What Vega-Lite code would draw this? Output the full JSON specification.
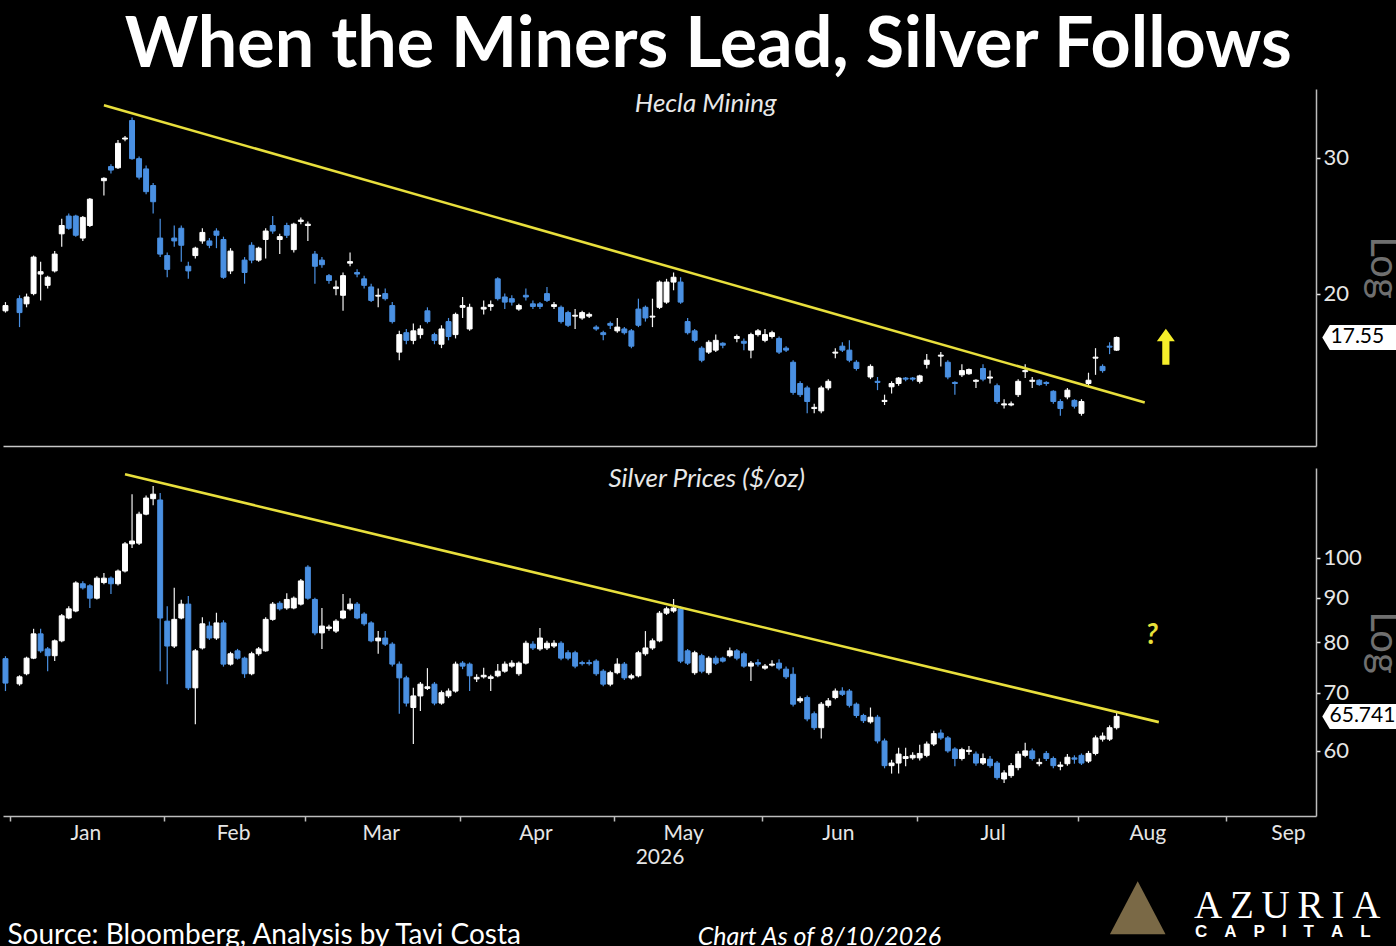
{
  "$schema": "https://vega.github.io/schema/vega-lite/v6.json",
  "background": "#000000",
  "padding": {"top": 11, "left": 0, "right": 0, "bottom": 0},
  "title": {"text": "When the Miners Lead, Silver Follows", "font": "Lato", "fontSize": 70, "fontWeight": "bold", "color": "#ffffff", "anchor": "middle", "offset": 7, "dx": 1},
  "spacing": 20,
  "config": {
    "view": {"stroke": null},
    "axis": {"labelFont": "Lato", "titleFont": "Lato", "grid": false}
  },
  "datasets": {
    "hecla": [
      {"date":"2025-12-31","open":19.0,"high":19.5,"low":18.9,"close":19.3},
      {"date":"2026-01-02","open":19.7,"high":19.9,"low":18.1,"close":18.9},
      {"date":"2026-01-05","open":19.4,"high":20.0,"low":19.2,"close":19.8},
      {"date":"2026-01-06","open":20.0,"high":22.4,"low":19.9,"close":22.3},
      {"date":"2026-01-07","open":21.2,"high":22.0,"low":19.6,"close":21.35},
      {"date":"2026-01-08","open":20.5,"high":21.1,"low":20.3,"close":21.0},
      {"date":"2026-01-09","open":21.4,"high":22.7,"low":21.3,"close":22.5},
      {"date":"2026-01-12","open":23.9,"high":25.0,"low":23.0,"close":24.5},
      {"date":"2026-01-13","open":25.2,"high":25.4,"low":24.2,"close":24.3},
      {"date":"2026-01-14","open":25.2,"high":25.3,"low":23.7,"close":23.8},
      {"date":"2026-01-15","open":23.6,"high":25.2,"low":23.4,"close":25.1},
      {"date":"2026-01-16","open":24.5,"high":26.6,"low":24.4,"close":26.5},
      {"date":"2026-01-20","open":28.0,"high":28.3,"low":26.8,"close":28.2},
      {"date":"2026-01-21","open":29.2,"high":29.4,"low":28.6,"close":28.9},
      {"date":"2026-01-22","open":29.1,"high":31.6,"low":29.0,"close":31.3},
      {"date":"2026-01-23","open":31.7,"high":32.0,"low":31.5,"close":31.8},
      {"date":"2026-01-26","open":33.5,"high":33.8,"low":29.8,"close":29.9},
      {"date":"2026-01-27","open":29.9,"high":30.1,"low":28.1,"close":28.3},
      {"date":"2026-01-28","open":29.0,"high":29.3,"low":26.9,"close":27.1},
      {"date":"2026-01-29","open":27.6,"high":27.8,"low":25.4,"close":26.3},
      {"date":"2026-01-30","open":23.6,"high":25.0,"low":22.3,"close":22.5},
      {"date":"2026-02-02","open":22.4,"high":22.6,"low":21.0,"close":21.5},
      {"date":"2026-02-03","open":23.6,"high":24.5,"low":23.0,"close":23.4},
      {"date":"2026-02-04","open":24.3,"high":24.5,"low":22.0,"close":23.1},
      {"date":"2026-02-05","open":21.7,"high":22.0,"low":20.9,"close":21.4},
      {"date":"2026-02-06","open":22.4,"high":23.0,"low":22.2,"close":22.9},
      {"date":"2026-02-09","open":23.4,"high":24.3,"low":23.2,"close":24.0},
      {"date":"2026-02-10","open":23.4,"high":23.6,"low":22.9,"close":23.1},
      {"date":"2026-02-11","open":24.1,"high":24.3,"low":22.9,"close":23.8},
      {"date":"2026-02-12","open":23.5,"high":23.7,"low":20.9,"close":21.0},
      {"date":"2026-02-13","open":21.4,"high":22.9,"low":21.2,"close":22.7},
      {"date":"2026-02-17","open":22.1,"high":22.3,"low":20.6,"close":21.3},
      {"date":"2026-02-18","open":23.1,"high":23.3,"low":21.9,"close":22.1},
      {"date":"2026-02-19","open":22.1,"high":23.0,"low":22.0,"close":22.9},
      {"date":"2026-02-20","open":23.5,"high":24.3,"low":22.2,"close":24.1},
      {"date":"2026-02-23","open":24.5,"high":25.2,"low":23.9,"close":24.1},
      {"date":"2026-02-24","open":23.5,"high":23.9,"low":22.5,"close":23.7},
      {"date":"2026-02-25","open":24.5,"high":24.7,"low":23.6,"close":23.8},
      {"date":"2026-02-26","open":22.8,"high":24.7,"low":22.6,"close":24.6},
      {"date":"2026-02-27","open":24.8,"high":25.1,"low":24.6,"close":24.9},
      {"date":"2026-03-02","open":24.5,"high":24.8,"low":23.4,"close":24.6},
      {"date":"2026-03-03","open":22.5,"high":22.7,"low":20.6,"close":21.7},
      {"date":"2026-03-04","open":22.1,"high":22.3,"low":21.6,"close":21.8},
      {"date":"2026-03-05","open":21.1,"high":21.2,"low":20.6,"close":20.8},
      {"date":"2026-03-06","open":20.3,"high":20.8,"low":19.9,"close":20.4},
      {"date":"2026-03-09","open":19.9,"high":21.3,"low":19.0,"close":21.1},
      {"date":"2026-03-10","open":21.9,"high":22.6,"low":21.7,"close":22.0},
      {"date":"2026-03-11","open":21.3,"high":21.5,"low":21.0,"close":21.2},
      {"date":"2026-03-12","open":20.9,"high":21.1,"low":20.3,"close":20.5},
      {"date":"2026-03-13","open":20.4,"high":20.6,"low":19.5,"close":19.6},
      {"date":"2026-03-16","open":19.85,"high":20.3,"low":19.2,"close":19.9},
      {"date":"2026-03-17","open":20.0,"high":20.3,"low":19.6,"close":19.7},
      {"date":"2026-03-18","open":19.3,"high":19.5,"low":18.3,"close":18.4},
      {"date":"2026-03-19","open":16.8,"high":17.9,"low":16.4,"close":17.7},
      {"date":"2026-03-20","open":17.8,"high":18.0,"low":17.2,"close":17.4},
      {"date":"2026-03-23","open":17.4,"high":18.3,"low":17.2,"close":17.9},
      {"date":"2026-03-24","open":17.7,"high":18.2,"low":17.5,"close":18.0},
      {"date":"2026-03-25","open":19.0,"high":19.2,"low":18.3,"close":18.4},
      {"date":"2026-03-26","open":17.7,"high":17.8,"low":17.2,"close":17.4},
      {"date":"2026-03-27","open":17.2,"high":18.2,"low":17.0,"close":18.0},
      {"date":"2026-03-30","open":18.4,"high":18.6,"low":17.4,"close":17.6},
      {"date":"2026-03-31","open":17.7,"high":18.9,"low":17.5,"close":18.8},
      {"date":"2026-04-01","open":19.2,"high":19.8,"low":18.6,"close":19.3},
      {"date":"2026-04-02","open":18.0,"high":19.4,"low":17.9,"close":19.2},
      {"date":"2026-04-06","open":19.1,"high":19.6,"low":18.8,"close":19.2},
      {"date":"2026-04-07","open":19.25,"high":19.6,"low":19.0,"close":19.35},
      {"date":"2026-04-08","open":20.9,"high":21.0,"low":19.6,"close":19.7},
      {"date":"2026-04-09","open":19.8,"high":20.0,"low":19.1,"close":19.5},
      {"date":"2026-04-10","open":19.7,"high":19.9,"low":19.3,"close":19.5},
      {"date":"2026-04-13","open":19.1,"high":19.4,"low":19.0,"close":19.3},
      {"date":"2026-04-14","open":19.9,"high":20.3,"low":19.6,"close":19.8},
      {"date":"2026-04-15","open":19.4,"high":19.6,"low":19.1,"close":19.25},
      {"date":"2026-04-16","open":19.4,"high":19.5,"low":19.1,"close":19.25},
      {"date":"2026-04-17","open":20.0,"high":20.4,"low":19.5,"close":19.6},
      {"date":"2026-04-20","open":19.25,"high":19.5,"low":19.1,"close":19.35},
      {"date":"2026-04-21","open":19.2,"high":19.3,"low":18.3,"close":18.4},
      {"date":"2026-04-22","open":18.9,"high":19.0,"low":18.1,"close":18.2},
      {"date":"2026-04-23","open":18.7,"high":19.1,"low":18.0,"close":18.75},
      {"date":"2026-04-24","open":18.6,"high":19.0,"low":18.5,"close":18.9},
      {"date":"2026-04-27","open":18.7,"high":18.9,"low":18.6,"close":18.8},
      {"date":"2026-04-28","open":18.1,"high":18.2,"low":17.9,"close":18.0},
      {"date":"2026-04-29","open":17.8,"high":17.9,"low":17.4,"close":17.7},
      {"date":"2026-04-30","open":18.3,"high":18.4,"low":18.0,"close":18.2},
      {"date":"2026-05-01","open":17.9,"high":18.6,"low":17.8,"close":18.1},
      {"date":"2026-05-04","open":18.0,"high":18.1,"low":17.7,"close":17.8},
      {"date":"2026-05-05","open":17.9,"high":18.0,"low":17.0,"close":17.1},
      {"date":"2026-05-06","open":19.1,"high":19.7,"low":18.1,"close":18.2},
      {"date":"2026-05-07","open":19.2,"high":19.3,"low":18.4,"close":18.6},
      {"date":"2026-05-08","open":18.65,"high":19.7,"low":18.1,"close":18.7},
      {"date":"2026-05-11","open":19.2,"high":20.8,"low":19.1,"close":20.7},
      {"date":"2026-05-12","open":19.5,"high":20.9,"low":19.4,"close":20.7},
      {"date":"2026-05-13","open":20.7,"high":21.3,"low":20.2,"close":21.0},
      {"date":"2026-05-14","open":20.7,"high":21.0,"low":19.4,"close":19.5},
      {"date":"2026-05-15","open":18.4,"high":18.6,"low":17.7,"close":17.8},
      {"date":"2026-05-18","open":17.9,"high":18.0,"low":17.3,"close":17.4},
      {"date":"2026-05-19","open":17.0,"high":17.1,"low":16.3,"close":16.4},
      {"date":"2026-05-20","open":16.8,"high":17.4,"low":16.7,"close":17.3},
      {"date":"2026-05-21","open":16.9,"high":17.7,"low":16.8,"close":17.4},
      {"date":"2026-05-22","open":17.25,"high":17.3,"low":17.0,"close":17.15},
      {"date":"2026-05-26","open":17.5,"high":17.7,"low":17.3,"close":17.6},
      {"date":"2026-05-27","open":17.35,"high":17.5,"low":16.9,"close":17.25},
      {"date":"2026-05-28","open":16.9,"high":17.8,"low":16.5,"close":17.7},
      {"date":"2026-05-29","open":17.7,"high":18.0,"low":17.6,"close":17.9},
      {"date":"2026-06-01","open":17.4,"high":18.0,"low":17.3,"close":17.7},
      {"date":"2026-06-02","open":17.6,"high":17.9,"low":17.5,"close":17.8},
      {"date":"2026-06-03","open":17.5,"high":17.6,"low":16.7,"close":16.8},
      {"date":"2026-06-04","open":17.0,"high":17.1,"low":16.8,"close":16.9},
      {"date":"2026-06-05","open":16.3,"high":16.4,"low":14.8,"close":14.9},
      {"date":"2026-06-08","open":15.3,"high":15.4,"low":14.7,"close":14.8},
      {"date":"2026-06-09","open":15.1,"high":15.2,"low":14.0,"close":14.5},
      {"date":"2026-06-10","open":14.2,"high":14.4,"low":14.0,"close":14.25},
      {"date":"2026-06-11","open":14.1,"high":15.2,"low":14.0,"close":15.1},
      {"date":"2026-06-12","open":15.1,"high":15.5,"low":15.0,"close":15.4},
      {"date":"2026-06-15","open":16.75,"high":17.0,"low":16.5,"close":16.8},
      {"date":"2026-06-16","open":17.1,"high":17.3,"low":16.8,"close":16.9},
      {"date":"2026-06-17","open":16.9,"high":17.4,"low":16.3,"close":16.4},
      {"date":"2026-06-18","open":16.3,"high":16.4,"low":15.9,"close":16.0},
      {"date":"2026-06-22","open":15.6,"high":16.2,"low":15.5,"close":16.1},
      {"date":"2026-06-23","open":15.4,"high":15.6,"low":15.0,"close":15.35},
      {"date":"2026-06-24","open":14.5,"high":14.8,"low":14.35,"close":14.55},
      {"date":"2026-06-25","open":15.15,"high":15.4,"low":14.85,"close":15.3},
      {"date":"2026-06-26","open":15.3,"high":15.6,"low":15.2,"close":15.55},
      {"date":"2026-06-29","open":15.55,"high":15.6,"low":15.4,"close":15.5},
      {"date":"2026-06-30","open":15.55,"high":15.6,"low":15.4,"close":15.5},
      {"date":"2026-07-01","open":15.4,"high":15.7,"low":15.3,"close":15.65},
      {"date":"2026-07-02","open":16.2,"high":16.7,"low":16.0,"close":16.4},
      {"date":"2026-07-06","open":16.6,"high":16.8,"low":16.1,"close":16.65},
      {"date":"2026-07-07","open":16.3,"high":16.4,"low":15.5,"close":15.6},
      {"date":"2026-07-08","open":15.35,"high":15.4,"low":14.8,"close":15.3},
      {"date":"2026-07-09","open":15.7,"high":16.2,"low":15.6,"close":15.9},
      {"date":"2026-07-10","open":15.75,"high":16.0,"low":15.7,"close":15.95},
      {"date":"2026-07-13","open":15.4,"high":15.5,"low":15.1,"close":15.45},
      {"date":"2026-07-14","open":16.0,"high":16.2,"low":15.4,"close":15.5},
      {"date":"2026-07-15","open":15.55,"high":15.9,"low":15.3,"close":15.6},
      {"date":"2026-07-16","open":15.2,"high":15.3,"low":14.4,"close":14.5},
      {"date":"2026-07-17","open":14.35,"high":14.6,"low":14.2,"close":14.4},
      {"date":"2026-07-20","open":14.35,"high":14.5,"low":14.3,"close":14.4},
      {"date":"2026-07-21","open":14.8,"high":15.5,"low":14.7,"close":15.4},
      {"date":"2026-07-22","open":15.85,"high":16.2,"low":15.55,"close":15.9},
      {"date":"2026-07-23","open":15.4,"high":15.6,"low":15.1,"close":15.45},
      {"date":"2026-07-24","open":15.45,"high":15.5,"low":15.2,"close":15.25},
      {"date":"2026-07-27","open":15.35,"high":15.4,"low":15.2,"close":15.3},
      {"date":"2026-07-28","open":14.95,"high":15.0,"low":14.4,"close":14.5},
      {"date":"2026-07-29","open":14.5,"high":14.6,"low":13.9,"close":14.2},
      {"date":"2026-07-30","open":14.7,"high":15.1,"low":14.6,"close":15.0},
      {"date":"2026-07-31","open":14.55,"high":14.6,"low":14.2,"close":14.3},
      {"date":"2026-08-03","open":14.0,"high":14.6,"low":13.9,"close":14.5},
      {"date":"2026-08-04","open":15.3,"high":15.8,"low":15.2,"close":15.45},
      {"date":"2026-08-05","open":16.5,"high":17.0,"low":15.7,"close":16.55},
      {"date":"2026-08-06","open":16.1,"high":16.2,"low":15.8,"close":15.9},
      {"date":"2026-08-07","open":17.1,"high":17.3,"low":16.7,"close":17.05},
      {"date":"2026-08-10","open":16.9,"high":17.6,"low":16.85,"close":17.55}
    ],
    "silver": [
      {"date":"2025-12-31","open":76.6,"high":77.1,"low":70.3,"close":71.8},
      {"date":"2026-01-02","open":71.65,"high":73.3,"low":71.3,"close":73.0},
      {"date":"2026-01-05","open":73.6,"high":77.0,"low":73.3,"close":76.7},
      {"date":"2026-01-06","open":76.7,"high":82.9,"low":76.5,"close":81.8},
      {"date":"2026-01-07","open":81.8,"high":82.9,"low":77.8,"close":78.2},
      {"date":"2026-01-08","open":78.6,"high":79.0,"low":74.1,"close":77.2},
      {"date":"2026-01-09","open":77.2,"high":80.6,"low":76.1,"close":80.3},
      {"date":"2026-01-12","open":80.3,"high":86.2,"low":80.0,"close":85.8},
      {"date":"2026-01-13","open":85.3,"high":88.0,"low":85.0,"close":87.4},
      {"date":"2026-01-14","open":86.9,"high":94.0,"low":86.6,"close":93.6},
      {"date":"2026-01-15","open":93.4,"high":94.0,"low":92.0,"close":92.4},
      {"date":"2026-01-16","open":92.9,"high":93.3,"low":87.6,"close":89.9},
      {"date":"2026-01-19","open":89.9,"high":95.3,"low":89.6,"close":94.8},
      {"date":"2026-01-20","open":93.7,"high":96.1,"low":93.3,"close":94.8},
      {"date":"2026-01-21","open":94.8,"high":95.2,"low":90.9,"close":93.4},
      {"date":"2026-01-22","open":93.4,"high":97.0,"low":93.0,"close":96.6},
      {"date":"2026-01-23","open":96.6,"high":104.3,"low":96.2,"close":103.8},
      {"date":"2026-01-26","open":103.8,"high":118.4,"low":102.7,"close":104.6},
      {"date":"2026-01-27","open":104.0,"high":113.0,"low":103.5,"close":112.3},
      {"date":"2026-01-28","open":112.3,"high":118.0,"low":112.0,"close":117.2},
      {"date":"2026-01-29","open":117.0,"high":121.0,"low":115.0,"close":118.4},
      {"date":"2026-01-30","open":116.6,"high":118.8,"low":74.1,"close":85.3},
      {"date":"2026-02-02","open":84.6,"high":88.0,"low":71.6,"close":79.2},
      {"date":"2026-02-03","open":79.2,"high":92.4,"low":78.8,"close":85.0},
      {"date":"2026-02-04","open":85.3,"high":89.5,"low":85.0,"close":88.5},
      {"date":"2026-02-05","open":88.5,"high":90.4,"low":70.5,"close":70.9},
      {"date":"2026-02-06","open":70.9,"high":78.6,"low":64.4,"close":78.2},
      {"date":"2026-02-09","open":78.8,"high":85.5,"low":78.5,"close":84.0},
      {"date":"2026-02-10","open":83.5,"high":84.5,"low":80.5,"close":80.9},
      {"date":"2026-02-11","open":80.9,"high":86.5,"low":80.5,"close":84.2},
      {"date":"2026-02-12","open":84.2,"high":84.8,"low":75.0,"close":75.5},
      {"date":"2026-02-13","open":75.5,"high":78.0,"low":75.2,"close":77.6},
      {"date":"2026-02-16","open":78.2,"high":78.6,"low":76.4,"close":76.7},
      {"date":"2026-02-17","open":76.7,"high":77.0,"low":72.8,"close":73.6},
      {"date":"2026-02-18","open":73.6,"high":78.0,"low":73.3,"close":77.6},
      {"date":"2026-02-19","open":77.6,"high":79.0,"low":77.2,"close":78.6},
      {"date":"2026-02-20","open":78.2,"high":85.5,"low":78.0,"close":85.0},
      {"date":"2026-02-23","open":85.0,"high":89.0,"low":84.7,"close":88.5},
      {"date":"2026-02-24","open":88.7,"high":89.2,"low":87.0,"close":87.4},
      {"date":"2026-02-25","open":87.6,"high":91.1,"low":87.2,"close":89.6},
      {"date":"2026-02-26","open":87.6,"high":90.3,"low":87.3,"close":89.9},
      {"date":"2026-02-27","open":88.5,"high":94.6,"low":88.2,"close":94.1},
      {"date":"2026-03-02","open":97.6,"high":98.1,"low":89.5,"close":89.9},
      {"date":"2026-03-03","open":89.6,"high":90.0,"low":81.5,"close":82.0},
      {"date":"2026-03-04","open":82.0,"high":87.6,"low":78.6,"close":83.5},
      {"date":"2026-03-05","open":83.0,"high":83.8,"low":82.5,"close":83.3},
      {"date":"2026-03-06","open":82.4,"high":85.0,"low":82.0,"close":84.6},
      {"date":"2026-03-09","open":85.3,"high":90.9,"low":85.0,"close":86.9},
      {"date":"2026-03-10","open":87.4,"high":89.9,"low":87.0,"close":88.5},
      {"date":"2026-03-11","open":88.5,"high":89.0,"low":85.0,"close":85.3},
      {"date":"2026-03-12","open":86.2,"high":86.6,"low":83.6,"close":84.0},
      {"date":"2026-03-13","open":84.2,"high":84.6,"low":80.0,"close":80.3},
      {"date":"2026-03-16","open":80.3,"high":82.4,"low":77.6,"close":80.9},
      {"date":"2026-03-17","open":80.9,"high":82.4,"low":79.2,"close":79.6},
      {"date":"2026-03-18","open":79.6,"high":80.0,"low":75.0,"close":75.5},
      {"date":"2026-03-19","open":75.5,"high":76.0,"low":66.2,"close":72.8},
      {"date":"2026-03-20","open":72.8,"high":73.2,"low":67.5,"close":68.1},
      {"date":"2026-03-23","open":67.3,"high":70.9,"low":61.1,"close":69.4},
      {"date":"2026-03-24","open":69.4,"high":72.0,"low":66.7,"close":71.6},
      {"date":"2026-03-25","open":70.8,"high":74.7,"low":70.5,"close":71.1},
      {"date":"2026-03-26","open":71.6,"high":72.0,"low":67.7,"close":68.1},
      {"date":"2026-03-27","open":68.1,"high":70.4,"low":67.8,"close":70.0},
      {"date":"2026-03-30","open":69.4,"high":70.8,"low":69.0,"close":70.3},
      {"date":"2026-03-31","open":70.3,"high":76.0,"low":70.0,"close":75.5},
      {"date":"2026-04-01","open":75.7,"high":76.1,"low":74.5,"close":75.1},
      {"date":"2026-04-02","open":75.5,"high":75.8,"low":70.3,"close":73.2},
      {"date":"2026-04-03","open":72.6,"high":73.5,"low":72.0,"close":72.9},
      {"date":"2026-04-06","open":73.0,"high":74.8,"low":72.7,"close":73.3},
      {"date":"2026-04-07","open":72.7,"high":73.4,"low":70.3,"close":73.0},
      {"date":"2026-04-08","open":73.2,"high":75.5,"low":72.9,"close":74.1},
      {"date":"2026-04-09","open":74.1,"high":76.0,"low":73.8,"close":75.5},
      {"date":"2026-04-10","open":75.1,"high":76.3,"low":74.8,"close":75.7},
      {"date":"2026-04-13","open":73.6,"high":76.0,"low":73.2,"close":75.7},
      {"date":"2026-04-14","open":75.7,"high":80.3,"low":75.4,"close":79.8},
      {"date":"2026-04-15","open":79.6,"high":80.2,"low":78.4,"close":78.8},
      {"date":"2026-04-16","open":78.6,"high":83.1,"low":78.2,"close":80.9},
      {"date":"2026-04-17","open":78.8,"high":80.3,"low":78.4,"close":79.8},
      {"date":"2026-04-20","open":79.2,"high":80.4,"low":78.8,"close":79.8},
      {"date":"2026-04-21","open":79.8,"high":80.2,"low":76.3,"close":76.7},
      {"date":"2026-04-22","open":77.8,"high":78.3,"low":76.3,"close":76.7},
      {"date":"2026-04-23","open":77.8,"high":78.2,"low":74.7,"close":75.1},
      {"date":"2026-04-24","open":75.8,"high":76.2,"low":75.2,"close":75.6},
      {"date":"2026-04-27","open":75.8,"high":76.4,"low":75.2,"close":75.6},
      {"date":"2026-04-28","open":76.1,"high":76.5,"low":73.2,"close":73.6},
      {"date":"2026-04-29","open":74.1,"high":74.5,"low":71.2,"close":71.6},
      {"date":"2026-04-30","open":71.6,"high":74.2,"low":71.2,"close":73.8},
      {"date":"2026-05-01","open":73.8,"high":76.7,"low":73.5,"close":75.5},
      {"date":"2026-05-04","open":75.5,"high":75.9,"low":72.4,"close":72.8},
      {"date":"2026-05-05","open":72.8,"high":73.6,"low":72.5,"close":73.2},
      {"date":"2026-05-06","open":73.2,"high":78.2,"low":72.9,"close":77.8},
      {"date":"2026-05-07","open":77.6,"high":82.4,"low":77.2,"close":78.8},
      {"date":"2026-05-08","open":78.8,"high":80.8,"low":78.4,"close":80.3},
      {"date":"2026-05-11","open":80.3,"high":86.9,"low":80.0,"close":86.4},
      {"date":"2026-05-12","open":86.4,"high":87.9,"low":86.0,"close":87.4},
      {"date":"2026-05-13","open":86.9,"high":89.7,"low":86.5,"close":87.6},
      {"date":"2026-05-14","open":87.4,"high":88.0,"low":75.7,"close":76.1},
      {"date":"2026-05-15","open":78.2,"high":78.6,"low":75.3,"close":75.7},
      {"date":"2026-05-18","open":73.8,"high":78.2,"low":73.4,"close":77.8},
      {"date":"2026-05-19","open":77.2,"high":77.6,"low":73.7,"close":74.1},
      {"date":"2026-05-20","open":73.8,"high":77.1,"low":73.4,"close":76.7},
      {"date":"2026-05-21","open":76.7,"high":77.2,"low":75.3,"close":75.7},
      {"date":"2026-05-22","open":76.7,"high":77.0,"low":75.8,"close":76.1},
      {"date":"2026-05-25","open":77.2,"high":78.9,"low":76.9,"close":78.2},
      {"date":"2026-05-26","open":78.2,"high":78.6,"low":76.3,"close":76.7},
      {"date":"2026-05-27","open":77.6,"high":78.0,"low":74.8,"close":75.1},
      {"date":"2026-05-28","open":75.1,"high":76.1,"low":72.2,"close":75.7},
      {"date":"2026-05-29","open":75.8,"high":76.5,"low":75.0,"close":75.5},
      {"date":"2026-06-01","open":74.7,"high":75.5,"low":74.4,"close":75.1},
      {"date":"2026-06-02","open":75.3,"high":76.3,"low":75.0,"close":75.5},
      {"date":"2026-06-03","open":75.7,"high":76.5,"low":74.3,"close":74.7},
      {"date":"2026-06-04","open":74.5,"high":75.0,"low":72.6,"close":73.0},
      {"date":"2026-06-05","open":73.5,"high":74.9,"low":67.5,"close":67.9},
      {"date":"2026-06-08","open":68.5,"high":69.3,"low":68.1,"close":68.9},
      {"date":"2026-06-09","open":69.1,"high":69.5,"low":64.9,"close":65.3},
      {"date":"2026-06-10","open":66.2,"high":66.6,"low":63.4,"close":63.8},
      {"date":"2026-06-11","open":63.8,"high":68.3,"low":62.0,"close":67.9},
      {"date":"2026-06-12","open":67.7,"high":69.0,"low":67.3,"close":68.5},
      {"date":"2026-06-15","open":69.1,"high":70.8,"low":68.8,"close":70.3},
      {"date":"2026-06-16","open":70.3,"high":71.0,"low":69.4,"close":69.7},
      {"date":"2026-06-17","open":70.3,"high":70.7,"low":67.3,"close":67.7},
      {"date":"2026-06-18","open":67.9,"high":68.2,"low":65.5,"close":65.9},
      {"date":"2026-06-19","open":65.9,"high":66.2,"low":64.6,"close":65.0},
      {"date":"2026-06-22","open":64.8,"high":67.3,"low":64.5,"close":65.6},
      {"date":"2026-06-23","open":65.6,"high":66.0,"low":61.2,"close":61.6},
      {"date":"2026-06-24","open":61.6,"high":62.0,"low":57.3,"close":57.7},
      {"date":"2026-06-25","open":57.7,"high":58.6,"low":56.5,"close":58.1},
      {"date":"2026-06-26","open":58.1,"high":60.5,"low":56.5,"close":59.5},
      {"date":"2026-06-29","open":58.8,"high":60.5,"low":57.6,"close":59.1},
      {"date":"2026-06-30","open":58.9,"high":59.8,"low":58.6,"close":59.3},
      {"date":"2026-07-01","open":58.9,"high":61.0,"low":58.5,"close":59.6},
      {"date":"2026-07-02","open":59.3,"high":61.5,"low":59.0,"close":61.1},
      {"date":"2026-07-03","open":61.1,"high":63.3,"low":60.8,"close":62.8},
      {"date":"2026-07-06","open":62.9,"high":63.5,"low":61.8,"close":62.1},
      {"date":"2026-07-07","open":62.1,"high":62.4,"low":59.7,"close":60.0},
      {"date":"2026-07-08","open":60.3,"high":60.6,"low":57.6,"close":58.8},
      {"date":"2026-07-09","open":58.8,"high":60.5,"low":58.5,"close":60.2},
      {"date":"2026-07-10","open":59.9,"high":60.8,"low":59.4,"close":60.1},
      {"date":"2026-07-13","open":59.5,"high":59.9,"low":57.7,"close":58.1},
      {"date":"2026-07-14","open":58.1,"high":59.6,"low":57.8,"close":58.8},
      {"date":"2026-07-15","open":58.7,"high":59.2,"low":57.4,"close":57.7},
      {"date":"2026-07-16","open":58.1,"high":58.4,"low":55.6,"close":55.9},
      {"date":"2026-07-17","open":55.7,"high":57.0,"low":55.1,"close":56.6},
      {"date":"2026-07-20","open":56.2,"high":58.1,"low":55.9,"close":57.7},
      {"date":"2026-07-21","open":57.4,"high":60.0,"low":57.0,"close":59.5},
      {"date":"2026-07-22","open":59.3,"high":61.3,"low":59.0,"close":60.0},
      {"date":"2026-07-23","open":60.0,"high":60.4,"low":58.5,"close":58.8},
      {"date":"2026-07-24","open":58.0,"high":58.8,"low":57.6,"close":58.2},
      {"date":"2026-07-27","open":59.6,"high":60.0,"low":58.4,"close":58.8},
      {"date":"2026-07-28","open":58.8,"high":59.1,"low":57.3,"close":57.7},
      {"date":"2026-07-29","open":57.6,"high":58.3,"low":57.0,"close":57.8},
      {"date":"2026-07-30","open":58.0,"high":59.5,"low":57.7,"close":59.0},
      {"date":"2026-07-31","open":58.9,"high":59.3,"low":58.0,"close":58.7},
      {"date":"2026-08-03","open":59.3,"high":59.6,"low":57.8,"close":58.1},
      {"date":"2026-08-04","open":58.4,"high":60.0,"low":58.1,"close":59.6},
      {"date":"2026-08-05","open":59.6,"high":62.5,"low":59.3,"close":62.1},
      {"date":"2026-08-06","open":61.9,"high":63.0,"low":61.5,"close":62.4},
      {"date":"2026-08-07","open":61.9,"high":64.2,"low":61.6,"close":63.8},
      {"date":"2026-08-10","open":63.8,"high":66.4,"low":63.5,"close":65.741}
    ]
  },
  "vconcat": [
    {
      "width": 1313,
      "height": 357,
      "encoding": {
        "x": {
          "field": "date",
          "type": "ordinal",
          "scale": {
            "type": "band",
            "paddingInner": 0.3,
            "paddingOuter": 0,
            "domain": ["2025-12-31","2026-01-01","2026-01-02","2026-01-05","2026-01-06","2026-01-07","2026-01-08","2026-01-09","2026-01-12","2026-01-13","2026-01-14","2026-01-15","2026-01-16","2026-01-19","2026-01-20","2026-01-21","2026-01-22","2026-01-23","2026-01-26","2026-01-27","2026-01-28","2026-01-29","2026-01-30","2026-02-02","2026-02-03","2026-02-04","2026-02-05","2026-02-06","2026-02-09","2026-02-10","2026-02-11","2026-02-12","2026-02-13","2026-02-16","2026-02-17","2026-02-18","2026-02-19","2026-02-20","2026-02-23","2026-02-24","2026-02-25","2026-02-26","2026-02-27","2026-03-02","2026-03-03","2026-03-04","2026-03-05","2026-03-06","2026-03-09","2026-03-10","2026-03-11","2026-03-12","2026-03-13","2026-03-16","2026-03-17","2026-03-18","2026-03-19","2026-03-20","2026-03-23","2026-03-24","2026-03-25","2026-03-26","2026-03-27","2026-03-30","2026-03-31","2026-04-01","2026-04-02","2026-04-03","2026-04-06","2026-04-07","2026-04-08","2026-04-09","2026-04-10","2026-04-13","2026-04-14","2026-04-15","2026-04-16","2026-04-17","2026-04-20","2026-04-21","2026-04-22","2026-04-23","2026-04-24","2026-04-27","2026-04-28","2026-04-29","2026-04-30","2026-05-01","2026-05-04","2026-05-05","2026-05-06","2026-05-07","2026-05-08","2026-05-11","2026-05-12","2026-05-13","2026-05-14","2026-05-15","2026-05-18","2026-05-19","2026-05-20","2026-05-21","2026-05-22","2026-05-25","2026-05-26","2026-05-27","2026-05-28","2026-05-29","2026-06-01","2026-06-02","2026-06-03","2026-06-04","2026-06-05","2026-06-08","2026-06-09","2026-06-10","2026-06-11","2026-06-12","2026-06-15","2026-06-16","2026-06-17","2026-06-18","2026-06-19","2026-06-22","2026-06-23","2026-06-24","2026-06-25","2026-06-26","2026-06-29","2026-06-30","2026-07-01","2026-07-02","2026-07-03","2026-07-06","2026-07-07","2026-07-08","2026-07-09","2026-07-10","2026-07-13","2026-07-14","2026-07-15","2026-07-16","2026-07-17","2026-07-20","2026-07-21","2026-07-22","2026-07-23","2026-07-24","2026-07-27","2026-07-28","2026-07-29","2026-07-30","2026-07-31","2026-08-03","2026-08-04","2026-08-05","2026-08-06","2026-08-07","2026-08-10","2026-08-11","2026-08-12","2026-08-13","2026-08-14","2026-08-17","2026-08-18","2026-08-19","2026-08-20","2026-08-21","2026-08-24","2026-08-25","2026-08-26","2026-08-27","2026-08-28","2026-08-31","2026-09-01","2026-09-02","2026-09-03","2026-09-04","2026-09-07","2026-09-08","2026-09-09","2026-09-10","2026-09-11","2026-09-14","2026-09-15","2026-09-16","2026-09-17"]
          },
          "axis": {"labels": false, "ticks": false, "domainColor": "#c8c8c8", "domainWidth": 1.5, "title": null}
        }
      },
      "layer": [
        {
          "data": {"name": "hecla"},
          "mark": {"type": "rule", "strokeWidth": 1.2},
          "encoding": {
            "y": {
              "field": "low", "type": "quantitative",
              "scale": {"type": "log", "domain": [12.7, 36.8], "nice": false, "zero": false},
              "axis": {"orient": "right", "values": [20, 30], "format": "d", "labelColor": "#e6e6e6", "labelFontSize": 22, "labelPadding": 3, "tickColor": "#e6e6e6", "tickSize": 4, "tickWidth": 1.5, "domainColor": "#bdbdbd", "domainWidth": 1.5, "title": "Log", "titleColor": "#6f6f6f", "titleFontSize": 40, "titleFontWeight": "normal", "titleAngle": 90, "titleX": 66, "titleY": 178, "titleAlign": "center", "titleBaseline": "middle"}
            },
            "y2": {"field": "high"},
            "color": {"condition": {"test": "datum.close >= datum.open", "value": "#f2f2f2"}, "value": "#4a90e2"}
          }
        },
        {
          "data": {"name": "hecla"},
          "mark": {"type": "bar", "strokeWidth": 1},
          "encoding": {
            "y": {"field": "open", "type": "quantitative", "scale": {"type": "log", "domain": [12.7, 36.8], "nice": false, "zero": false}},
            "y2": {"field": "close"},
            "color": {"condition": {"test": "datum.close >= datum.open", "value": "#ffffff"}, "value": "#4a90e2"},
            "stroke": {"condition": {"test": "datum.close >= datum.open", "value": "#ffffff"}, "value": "#4a90e2"}
          }
        },
        {
          "data": {"values": [{"line": "trend"}]},
          "mark": {"type": "rule", "color": "#e8df3c", "strokeWidth": 2.6},
          "encoding": {
            "x": {"datum": "2026-01-20", "type": "ordinal"},
            "x2": {"datum": "2026-08-14"},
            "y": {"datum": 35.05, "type": "quantitative"},
            "y2": {"datum": 14.46}
          }
        },
        {
          "data": {"values": [{"label": "Hecla Mining"}]},
          "mark": {"type": "text", "font": "Lato", "fontSize": 26, "fontStyle": "italic", "color": "#e8e8e8", "align": "center", "baseline": "middle", "dx": -3},
          "encoding": {
            "x": {"datum": "2026-05-20", "type": "ordinal"},
            "y": {"datum": 35.2, "type": "quantitative"},
            "text": {"field": "label"}
          }
        },
        {
          "data": {"values": [{"note": "breakout"}]},
          "mark": {"type": "point", "shape": "M 0 -1 L 0.5 -0.3 L 0.2 -0.3 L 0.2 1 L -0.2 1 L -0.2 -0.3 L -0.5 -0.3 Z", "filled": true, "opacity": 1, "color": "#f5ee2a", "size": 1296},
          "encoding": {
            "x": {"datum": "2026-08-19", "type": "ordinal"},
            "y": {"datum": 17.07, "type": "quantitative"}
          }
        },
        {
          "data": {"values": [{"label": "17.55"}]},
          "mark": {"type": "point", "shape": "M 0.7 0 L 1.3 -1 L 8 -1 L 8 1 L 1.3 1 Z", "filled": true, "opacity": 1, "color": "#ffffff", "size": 625},
          "encoding": {
            "x": {"datum": "2026-09-17", "type": "ordinal"},
            "y": {"datum": 17.55, "type": "quantitative"}
          }
        },
        {
          "data": {"values": [{"label": "17.55"}]},
          "mark": {"type": "text", "font": "Lato", "fontSize": 21, "color": "#000000", "align": "left", "baseline": "middle", "dx": 17},
          "encoding": {
            "x": {"datum": "2026-09-17", "type": "ordinal"},
            "y": {"datum": 17.55, "type": "quantitative"},
            "text": {"field": "label"}
          }
        }
      ]
    },
    {
      "width": 1313,
      "height": 348,
      "encoding": {
        "x": {
          "field": "date",
          "type": "ordinal",
          "scale": {
            "type": "band",
            "paddingInner": 0.3,
            "paddingOuter": 0,
            "domain": ["2025-12-31","2026-01-01","2026-01-02","2026-01-05","2026-01-06","2026-01-07","2026-01-08","2026-01-09","2026-01-12","2026-01-13","2026-01-14","2026-01-15","2026-01-16","2026-01-19","2026-01-20","2026-01-21","2026-01-22","2026-01-23","2026-01-26","2026-01-27","2026-01-28","2026-01-29","2026-01-30","2026-02-02","2026-02-03","2026-02-04","2026-02-05","2026-02-06","2026-02-09","2026-02-10","2026-02-11","2026-02-12","2026-02-13","2026-02-16","2026-02-17","2026-02-18","2026-02-19","2026-02-20","2026-02-23","2026-02-24","2026-02-25","2026-02-26","2026-02-27","2026-03-02","2026-03-03","2026-03-04","2026-03-05","2026-03-06","2026-03-09","2026-03-10","2026-03-11","2026-03-12","2026-03-13","2026-03-16","2026-03-17","2026-03-18","2026-03-19","2026-03-20","2026-03-23","2026-03-24","2026-03-25","2026-03-26","2026-03-27","2026-03-30","2026-03-31","2026-04-01","2026-04-02","2026-04-03","2026-04-06","2026-04-07","2026-04-08","2026-04-09","2026-04-10","2026-04-13","2026-04-14","2026-04-15","2026-04-16","2026-04-17","2026-04-20","2026-04-21","2026-04-22","2026-04-23","2026-04-24","2026-04-27","2026-04-28","2026-04-29","2026-04-30","2026-05-01","2026-05-04","2026-05-05","2026-05-06","2026-05-07","2026-05-08","2026-05-11","2026-05-12","2026-05-13","2026-05-14","2026-05-15","2026-05-18","2026-05-19","2026-05-20","2026-05-21","2026-05-22","2026-05-25","2026-05-26","2026-05-27","2026-05-28","2026-05-29","2026-06-01","2026-06-02","2026-06-03","2026-06-04","2026-06-05","2026-06-08","2026-06-09","2026-06-10","2026-06-11","2026-06-12","2026-06-15","2026-06-16","2026-06-17","2026-06-18","2026-06-19","2026-06-22","2026-06-23","2026-06-24","2026-06-25","2026-06-26","2026-06-29","2026-06-30","2026-07-01","2026-07-02","2026-07-03","2026-07-06","2026-07-07","2026-07-08","2026-07-09","2026-07-10","2026-07-13","2026-07-14","2026-07-15","2026-07-16","2026-07-17","2026-07-20","2026-07-21","2026-07-22","2026-07-23","2026-07-24","2026-07-27","2026-07-28","2026-07-29","2026-07-30","2026-07-31","2026-08-03","2026-08-04","2026-08-05","2026-08-06","2026-08-07","2026-08-10","2026-08-11","2026-08-12","2026-08-13","2026-08-14","2026-08-17","2026-08-18","2026-08-19","2026-08-20","2026-08-21","2026-08-24","2026-08-25","2026-08-26","2026-08-27","2026-08-28","2026-08-31","2026-09-01","2026-09-02","2026-09-03","2026-09-04","2026-09-07","2026-09-08","2026-09-09","2026-09-10","2026-09-11","2026-09-14","2026-09-15","2026-09-16","2026-09-17"]
          },
          "axis": {
            "orient": "bottom",
            "bandPosition": 0,
            "domainColor": "#bdbdbd",
            "domainWidth": 1.5,
            "tickColor": "#bdbdbd",
            "tickSize": 5,
            "tickWidth": 1.5,
            "tickOpacity": {"condition": {"test": "indexof(['2026-01-01','2026-02-02','2026-03-02','2026-04-01','2026-05-01','2026-06-01','2026-07-01','2026-08-03','2026-09-01'], datum.value) >= 0", "value": 1}, "value": 0},
            "labelExpr": "datum.value == '2026-01-16' ? 'Jan' : datum.value == '2026-02-16' ? 'Feb' : datum.value == '2026-03-17' ? 'Mar' : datum.value == '2026-04-16' ? 'Apr' : datum.value == '2026-05-15' ? 'May' : datum.value == '2026-06-16' ? 'Jun' : datum.value == '2026-07-16' ? 'Jul' : datum.value == '2026-08-17' ? 'Aug' : datum.value == '2026-09-14' ? 'Sep' : ''",
            "labelOffset": -4,
            "labelAngle": 0,
            "labelOverlap": false,
            "labelFlush": false,
            "labelColor": "#e6e6e6",
            "labelFontSize": 21,
            "labelPadding": 1,
            "title": "2026",
            "titleColor": "#e6e6e6",
            "titleFontSize": 21,
            "titleFontWeight": "normal",
            "titlePadding": 3
          }
        }
      },
      "layer": [
        {
          "data": {"name": "silver"},
          "mark": {"type": "rule", "strokeWidth": 1.2},
          "encoding": {
            "y": {
              "field": "low", "type": "quantitative",
              "scale": {"type": "log", "domain": [50.5, 126.9], "nice": false, "zero": false},
              "axis": {"orient": "right", "values": [60, 70, 80, 90, 100], "format": "d", "labelColor": "#e6e6e6", "labelFontSize": 22, "labelPadding": 3, "tickColor": "#e6e6e6", "tickSize": 4, "tickWidth": 1.5, "domainColor": "#bdbdbd", "domainWidth": 1.5, "title": "Log", "titleColor": "#6f6f6f", "titleFontSize": 40, "titleFontWeight": "normal", "titleAngle": 90, "titleX": 66, "titleY": 174, "titleAlign": "center", "titleBaseline": "middle"}
            },
            "y2": {"field": "high"},
            "color": {"condition": {"test": "datum.close >= datum.open", "value": "#f2f2f2"}, "value": "#4a90e2"}
          }
        },
        {
          "data": {"name": "silver"},
          "mark": {"type": "bar", "strokeWidth": 1},
          "encoding": {
            "y": {"field": "open", "type": "quantitative", "scale": {"type": "log", "domain": [50.5, 126.9], "nice": false, "zero": false}},
            "y2": {"field": "close"},
            "color": {"condition": {"test": "datum.close >= datum.open", "value": "#ffffff"}, "value": "#4a90e2"},
            "stroke": {"condition": {"test": "datum.close >= datum.open", "value": "#ffffff"}, "value": "#4a90e2"}
          }
        },
        {
          "data": {"values": [{"line": "trend"}]},
          "mark": {"type": "rule", "color": "#e8df3c", "strokeWidth": 2.6},
          "encoding": {
            "x": {"datum": "2026-01-23", "type": "ordinal"},
            "x2": {"datum": "2026-08-18"},
            "y": {"datum": 124.8, "type": "quantitative"},
            "y2": {"datum": 64.75}
          }
        },
        {
          "data": {"values": [{"label": "Silver Prices ($/oz)"}]},
          "mark": {"type": "text", "font": "Lato", "fontSize": 26, "fontStyle": "italic", "color": "#e8e8e8", "align": "center", "baseline": "middle", "dx": -2},
          "encoding": {
            "x": {"datum": "2026-05-20", "type": "ordinal"},
            "y": {"datum": 123.2, "type": "quantitative"},
            "text": {"field": "label"}
          }
        },
        {
          "data": {"values": [{"label": "?"}]},
          "mark": {"type": "text", "font": "Lato", "fontSize": 28, "fontWeight": "bold", "fontStyle": "italic", "color": "#e8e03a", "align": "center", "baseline": "middle"},
          "encoding": {
            "x": {"datum": "2026-08-17", "type": "ordinal"},
            "y": {"datum": 81.35, "type": "quantitative"},
            "text": {"field": "label"}
          }
        },
        {
          "data": {"values": [{"label": "65.741"}]},
          "mark": {"type": "point", "shape": "M 0.7 0 L 1.3 -1 L 8 -1 L 8 1 L 1.3 1 Z", "filled": true, "opacity": 1, "color": "#ffffff", "size": 625},
          "encoding": {
            "x": {"datum": "2026-09-17", "type": "ordinal"},
            "y": {"datum": 65.741, "type": "quantitative"}
          }
        },
        {
          "data": {"values": [{"label": "65.741"}]},
          "mark": {"type": "text", "font": "Lato", "fontSize": 21, "color": "#000000", "align": "left", "baseline": "middle", "dx": 16},
          "encoding": {
            "x": {"datum": "2026-09-17", "type": "ordinal"},
            "y": {"datum": 65.741, "type": "quantitative"},
            "text": {"field": "label"}
          }
        },
        {
          "data": {"values": [{"label": "Source: Bloomberg, Analysis by Tavi Costa"}]},
          "mark": {"type": "text", "font": "Lato", "fontSize": 28, "color": "#ffffff", "align": "left", "baseline": "alphabetic", "dx": 2},
          "encoding": {
            "x": {"datum": "2025-12-31", "type": "ordinal"},
            "y": {"datum": 36.0, "type": "quantitative"},
            "text": {"field": "label"}
          }
        },
        {
          "data": {"values": [{"label": "Chart As of 8/10/2026"}]},
          "mark": {"type": "text", "font": "Lato", "fontSize": 25, "fontStyle": "italic", "color": "#ffffff", "align": "left", "baseline": "alphabetic", "dx": 3},
          "encoding": {
            "x": {"datum": "2026-05-18", "type": "ordinal"},
            "y": {"datum": 35.9, "type": "quantitative"},
            "text": {"field": "label"}
          }
        },
        {
          "data": {"values": [{"label": "logo"}]},
          "mark": {"type": "point", "shape": "M 0 -1 L 1.05 1 L -1.05 1 Z", "filled": true, "opacity": 0.85, "color": "#8f7b52", "size": 2809},
          "encoding": {
            "x": {"datum": "2026-08-13", "type": "ordinal"},
            "y": {"datum": 39.6, "type": "quantitative"}
          }
        },
        {
          "data": {"values": [{"label": "A\u2009Z\u2009U\u2009R\u2009I\u2009A"}]},
          "mark": {"type": "text", "font": "Liberation Serif", "fontSize": 39, "color": "#ffffff", "align": "left", "baseline": "alphabetic", "dx": 0},
          "encoding": {
            "x": {"datum": "2026-08-25", "type": "ordinal"},
            "y": {"datum": 38.57, "type": "quantitative"},
            "text": {"field": "label"}
          }
        },
        {
          "data": {"values": [{"label": "C\u2003A\u2003P\u2003I\u2003T\u2003A\u2003L"}]},
          "mark": {"type": "text", "font": "Liberation Sans", "fontSize": 17, "fontWeight": "bold", "color": "#ffffff", "align": "left", "baseline": "alphabetic", "dx": 1},
          "encoding": {
            "x": {"datum": "2026-08-25", "type": "ordinal"},
            "y": {"datum": 36.67, "type": "quantitative"},
            "text": {"field": "label"}
          }
        }
      ]
    }
  ]
}
